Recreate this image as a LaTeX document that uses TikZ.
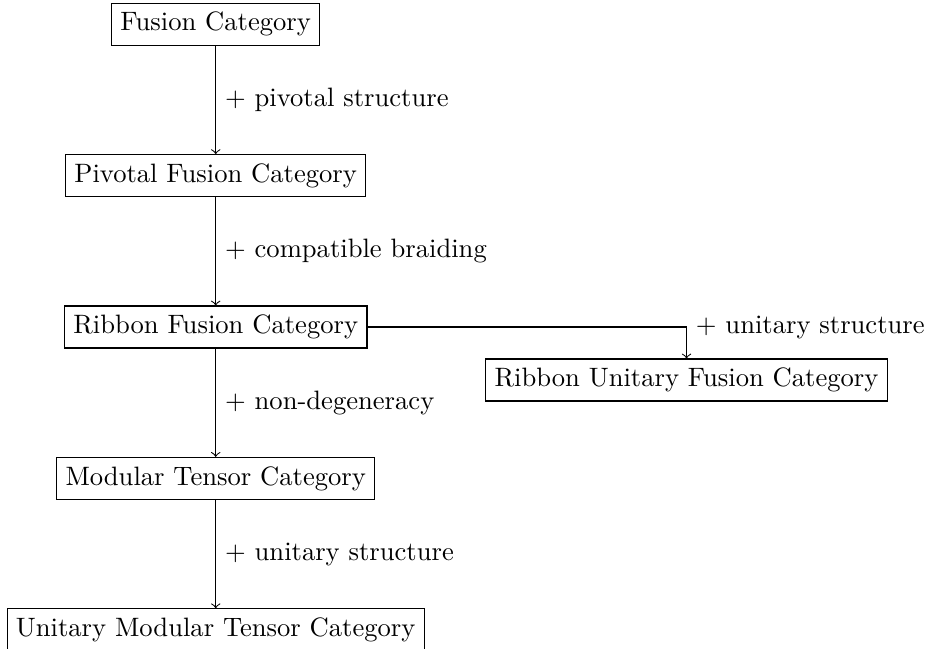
\documentclass[tikz,border=0pt]{standalone}
\begin{document}
\begin{tikzpicture}[cat/.style={rectangle, draw}]
    \useasboundingbox (-2.85, 0.32) rectangle (9.41, -8.25);

    \node[cat] (FC) at (0, 0) {Fusion Category};
    \node[cat] (PFC) at (0, -2) {Pivotal Fusion Category};
    \node[cat] (RFC) at (0, -4) {Ribbon Fusion Category};
    \node[cat] (RUFC) at (6.22, -4.7) {Ribbon Unitary Fusion Category};
    \node[cat] (MTC) at (0, -6) {Modular Tensor Category};
    \node[cat] (UMTC) at (0, -8) {Unitary Modular Tensor Category};

    \draw[->] (FC) -- node[right] {$+$ pivotal structure} (PFC);
    \draw[->] (PFC) -- node[right] {$+$ compatible braiding} (RFC);
    \draw[->] (RFC) -| node[right] {$+$ unitary structure} (RUFC);
    \draw[->] (RFC) -- node[right] {$+$ non-degeneracy} (MTC);
    \draw[->] (MTC) -- node[right] {$+$ unitary structure} (UMTC);

  \end{tikzpicture}
\end{document}
